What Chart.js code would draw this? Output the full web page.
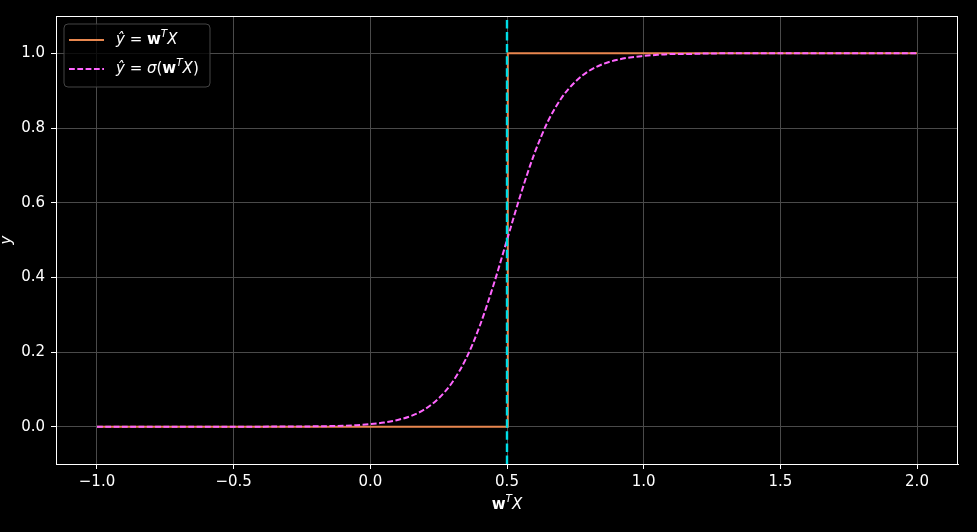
<!DOCTYPE html>
<html>
<head>
<meta charset="utf-8">
<script src="https://cdn.jsdelivr.net/npm/chart.js@4"></script>
<style>
html,body{margin:0;padding:0;background:#000;}
#wrap{width:977px;height:532px;}
</style>
</head>
<body>
<div id="wrap"><canvas id="c" width="977" height="532"></canvas></div>
<script>
// ---- data ----
const xTicks = [-1.0, -0.5, 0.0, 0.5, 1.0, 1.5, 2.0];
const yTicks = [0.0, 0.2, 0.4, 0.6, 0.8, 1.0];
const stepX = [-1.0, 0.5, 0.503, 2.0];
const stepY = [0, 0, 1, 1];
const sigX = [-1.0, -0.6, -0.3, -0.25, -0.2, -0.15, -0.1, -0.05, 0.0, 0.05, 0.1, 0.15, 0.2, 0.25, 0.3, 0.35, 0.4, 0.45, 0.5, 0.55, 0.6, 0.65, 0.7, 0.75, 0.8, 0.85, 0.9, 0.95, 1.0, 1.05, 1.1, 1.15, 1.2, 1.3, 1.6, 2.0];
const sigY = [0.0, 0.0, 0.0003, 0.0006, 0.0009, 0.0015, 0.0025, 0.0041, 0.0067, 0.011, 0.018, 0.029, 0.047, 0.076, 0.119, 0.182, 0.269, 0.378, 0.5, 0.622, 0.731, 0.818, 0.881, 0.924, 0.953, 0.971, 0.982, 0.989, 0.993, 0.996, 0.998, 0.998, 0.999, 1.0, 1.0, 1.0];
const thresholdX = [0.5, 0.5];
const thresholdY = [-0.1, 1.1];
const seriesLabels = ['ŷ = wᵀX', 'ŷ = σ(wᵀX)'];
const xTitle = 'wᵀX';
const yTitle = 'y';

const FONT = "'DejaVu Sans', sans-serif";
const ORANGE = '#e8874f';
const MAGENTA = '#ff66ff';
const CYAN = '#00dde6';
const toPts = (xs, ys) => xs.map((x, i) => ({x: x, y: ys[i]}));
const fmt = v => (v < 0 ? '\u2212' : '') + Math.abs(v).toFixed(1);

// rich text runs (math-like)
const legendRuns = [
  [{t:'ŷ', s:'italic'}, {t:' = ', s:'normal'}, {t:'w', s:'bold'}, {t:'T', s:'italic', sup:true}, {t:'X', s:'italic'}],
  [{t:'ŷ', s:'italic'}, {t:' = ', s:'normal'}, {t:'σ', s:'italic'}, {t:'(', s:'normal'}, {t:'w', s:'bold'}, {t:'T', s:'italic', sup:true}, {t:'X', s:'italic'}, {t:')', s:'normal'}]
];
const xTitleRuns = [{t:'w', s:'bold'}, {t:'T', s:'italic', sup:true}, {t:'X', s:'italic'}];

function runFont(r, size) {
  const sz = r.sup ? size * 0.7 : size;
  return (r.s === 'italic' ? 'italic ' : '') + (r.s === 'bold' ? 'bold ' : '') + sz + 'px ' + FONT;
}
function measureRuns(ctx, runs, size) {
  let w = 0;
  runs.forEach(r => { ctx.font = runFont(r, size); w += ctx.measureText(r.t).width; });
  return w;
}
function drawRuns(ctx, x, y, runs, size) {
  ctx.textBaseline = 'middle';
  ctx.textAlign = 'left';
  runs.forEach(r => {
    ctx.font = runFont(r, size);
    ctx.fillText(r.t, x, r.sup ? y - size * 0.38 : y);
    x += ctx.measureText(r.t).width;
  });
}

const decor = {
  id: 'decor',
  beforeDraw(chart) {
    const ctx = chart.ctx;
    ctx.save();
    ctx.fillStyle = '#000000';
    ctx.fillRect(0, 0, chart.width, chart.height);
    ctx.restore();
  },
  afterDatasetsDraw(chart) {
    const ctx = chart.ctx;
    const ca = chart.chartArea;
    ctx.save();
    // legend box
    const bx = ca.left + 8, by = ca.top + 8, bw = 146, bh = 63;
    ctx.beginPath();
    ctx.roundRect(bx, by, bw, bh, 4);
    ctx.fillStyle = 'rgba(0,0,0,0.8)';
    ctx.fill();
    ctx.strokeStyle = '#444444';
    ctx.lineWidth = 1;
    ctx.stroke();
    const rows = [by + 16, by + 45];
    const styles = [{c: ORANGE, d: []}, {c: MAGENTA, d: [5.8, 2.5]}];
    rows.forEach((ry, i) => {
      ctx.beginPath();
      ctx.setLineDash(styles[i].d);
      ctx.strokeStyle = styles[i].c;
      ctx.lineWidth = 2;
      ctx.moveTo(bx + 5, ry);
      ctx.lineTo(bx + 40, ry);
      ctx.stroke();
      ctx.setLineDash([]);
      ctx.fillStyle = '#ffffff';
      drawRuns(ctx, bx + 52, ry, legendRuns[i], 15);
    });
    ctx.restore();
  },
  afterDraw(chart) {
    const ctx = chart.ctx;
    const ca = chart.chartArea;
    ctx.save();
    ctx.strokeStyle = '#ffffff';
    ctx.lineWidth = 1;
    ctx.strokeRect(Math.round(ca.left) + 0.5, Math.round(ca.top) + 0.5, Math.round(ca.right - ca.left) - 1, Math.round(ca.bottom - ca.top));
    // x title
    ctx.fillStyle = '#ffffff';
    const w = measureRuns(ctx, xTitleRuns, 15);
    drawRuns(ctx, (ca.left + ca.right) / 2 - w / 2, 505, xTitleRuns, 15);
    ctx.restore();
  }
};

new Chart(document.getElementById('c'), {
  type: 'scatter',
  data: {
    datasets: [
      {label: 'threshold', data: toPts(thresholdX, thresholdY), showLine: true, borderColor: CYAN, borderWidth: 2.4, borderDash: [8.5, 3.6], pointRadius: 0, order: 0},
      {label: seriesLabels[1], data: toPts(sigX, sigY), showLine: true, borderColor: MAGENTA, borderWidth: 2, borderDash: [5.8, 2.5], pointRadius: 0, cubicInterpolationMode: 'monotone', order: 1},
      {label: seriesLabels[0], data: toPts(stepX, stepY), showLine: true, borderColor: ORANGE, borderWidth: 2, pointRadius: 0, order: 2}
    ]
  },
  options: {
    responsive: false,
    animation: false,
    layout: {padding: {left: 0, top: 16, right: 19, bottom: 0}},
    plugins: {legend: {display: false}, tooltip: {enabled: false}},
    scales: {
      x: {
        type: 'linear', min: -1.15, max: 2.15,
        afterBuildTicks: s => { s.ticks = xTicks.map(v => ({value: v})); },
        afterFit: s => { s.height = 68; },
        grid: {color: '#4a4a4a', lineWidth: 1, tickColor: '#ffffff', tickLength: 5, drawTicks: true},
        border: {color: '#ffffff', width: 1},
        ticks: {color: '#ffffff', font: {family: FONT, size: 15}, padding: 4, maxRotation: 0, callback: v => fmt(v)},
        title: {display: false, text: xTitle}
      },
      y: {
        type: 'linear', min: -0.1, max: 1.1,
        afterBuildTicks: s => { s.ticks = yTicks.map(v => ({value: v})); },
        afterFit: s => { s.width = 56; },
        grid: {color: '#4a4a4a', lineWidth: 1, tickColor: '#ffffff', tickLength: 5, drawTicks: true},
        border: {color: '#ffffff', width: 1},
        ticks: {color: '#ffffff', font: {family: FONT, size: 15}, padding: 6, callback: v => fmt(v)},
        title: {display: true, text: yTitle, color: '#ffffff', font: {family: FONT, size: 15, style: 'italic', lineHeight: 1}, padding: 0}
      }
    }
  },
  plugins: [decor]
});
</script>
</body>
</html>
